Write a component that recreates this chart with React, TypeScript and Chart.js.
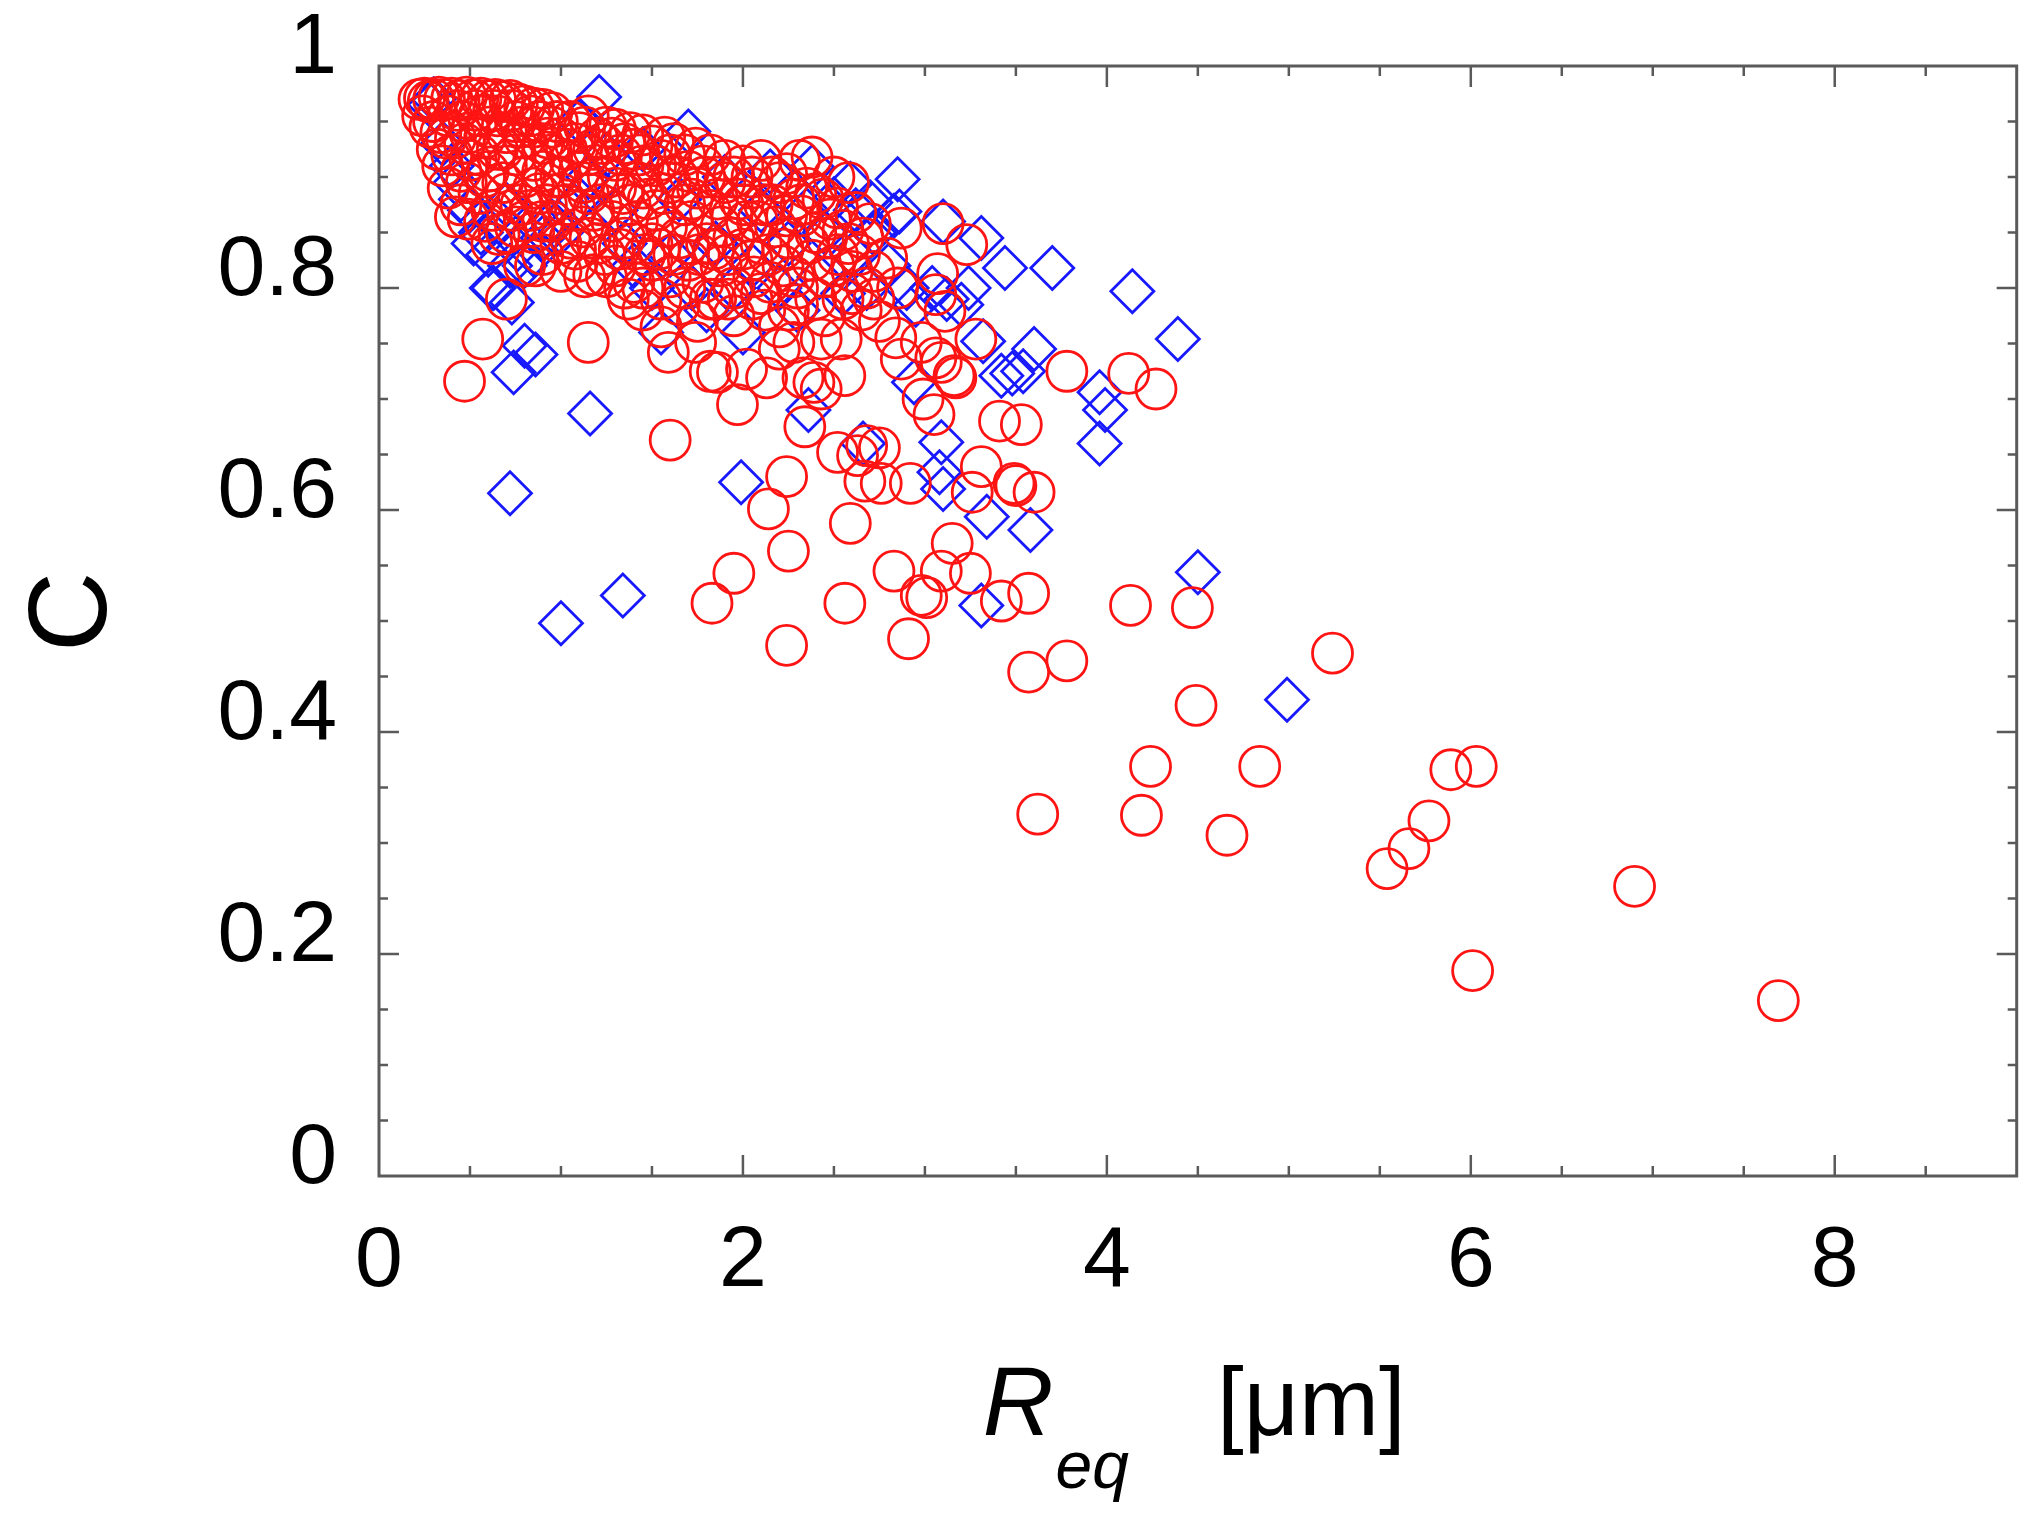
import React, { useEffect, useRef } from "react";
import { Chart, registerables } from "chart.js";

Chart.register(...registerables);

const FONT = '"Liberation Sans", Arial, Helvetica, sans-serif';

// [Req (um), C], red circles
const circlesCap: [number, number][] = [
  [0.22, 0.97], [0.25, 0.971], [0.27, 0.968], [0.3, 0.97], [0.33, 0.972], [0.36, 0.97],
  [0.4, 0.971], [0.44, 0.969], [0.48, 0.972], [0.52, 0.97], [0.56, 0.971], [0.6, 0.969],
  [0.64, 0.97], [0.68, 0.968], [0.72, 0.969], [0.76, 0.966], [0.8, 0.964], [0.85, 0.962],
  [0.9, 0.961], [0.95, 0.958],
];

const circlesUpper: [number, number][] = [
  [0.3, 0.95], [0.34, 0.94], [0.38, 0.955], [0.42, 0.935], [0.46, 0.95], [0.5, 0.94],
  [0.55, 0.955], [0.6, 0.945], [0.65, 0.955], [0.7, 0.94], [0.75, 0.95], [0.8, 0.935],
  [0.85, 0.945], [0.9, 0.93], [0.95, 0.945], [1.0, 0.935], [1.05, 0.95], [1.1, 0.94],
  [1.15, 0.955], [1.2, 0.935], [1.25, 0.945], [1.3, 0.943], [1.35, 0.93], [1.45, 0.938],
  [1.57, 0.936], [0.35, 0.91], [0.4, 0.92], [0.45, 0.905], [0.5, 0.915], [0.55, 0.92],
  [0.6, 0.905], [0.65, 0.925], [0.7, 0.91], [0.75, 0.92], [0.8, 0.9], [0.85, 0.915],
  [0.9, 0.905], [0.95, 0.92], [1.0, 0.9], [1.05, 0.915], [1.1, 0.905], [1.15, 0.92],
  [1.2, 0.9], [1.3, 0.915], [1.4, 0.925], [1.45, 0.91], [1.5, 0.928], [1.55, 0.915],
  [1.62, 0.93], [1.68, 0.92], [1.74, 0.926], [1.82, 0.92], [1.9, 0.915], [2.0, 0.91],
  [2.1, 0.915], [2.24, 0.903], [2.31, 0.915], [2.38, 0.918], [2.5, 0.9], [2.58, 0.895],
];

const circlesMiddle: [number, number][] = [
  [0.42, 0.864], [0.45, 0.875], [0.55, 0.885], [0.62, 0.87], [0.7, 0.885], [0.78, 0.875],
  [0.85, 0.89], [0.92, 0.875], [1.0, 0.885], [1.08, 0.87], [1.15, 0.885], [1.22, 0.875],
  [1.3, 0.89], [1.38, 0.875], [1.45, 0.89], [1.52, 0.87], [1.6, 0.895], [1.68, 0.875],
  [1.75, 0.89], [1.82, 0.87], [1.9, 0.895], [1.98, 0.88], [2.05, 0.89], [2.12, 0.875],
  [2.2, 0.895], [2.28, 0.88], [2.35, 0.89], [2.44, 0.88], [2.52, 0.872], [0.49, 0.862],
  [0.62, 0.84], [0.66, 0.848], [0.75, 0.855], [0.85, 0.85], [0.95, 0.86], [1.05, 0.845],
  [1.12, 0.855], [1.2, 0.84], [1.28, 0.86], [1.35, 0.845], [1.42, 0.86], [1.5, 0.84],
  [1.58, 0.855], [1.65, 0.845], [1.72, 0.86], [1.8, 0.84], [1.88, 0.855], [1.95, 0.845],
  [2.02, 0.86], [2.1, 0.84], [2.18, 0.855], [2.25, 0.845], [2.32, 0.865], [2.4, 0.85],
  [2.48, 0.862], [2.55, 0.852], [2.62, 0.868], [2.7, 0.858], [2.87, 0.854], [3.1, 0.858],
  [3.23, 0.839],
];

const circlesLower: [number, number][] = [
  [0.7, 0.79], [0.8, 0.82], [0.86, 0.82], [0.9, 0.83], [1.0, 0.815], [1.09, 0.824],
  [1.13, 0.81], [1.18, 0.812], [1.3, 0.82], [1.35, 0.8], [1.4, 0.805], [1.5, 0.825],
  [1.6, 0.81], [1.7, 0.825], [1.78, 0.805], [1.88, 0.82], [1.95, 0.8], [2.05, 0.825],
  [2.15, 0.805], [2.22, 0.82], [2.3, 0.8], [2.38, 0.825], [2.45, 0.81], [2.52, 0.83],
  [2.6, 0.815], [2.68, 0.8], [2.79, 0.827], [3.07, 0.813], [1.37, 0.79], [1.45, 0.78],
  [1.55, 0.765], [1.65, 0.785], [1.75, 0.77], [1.85, 0.79], [1.95, 0.775], [2.05, 0.79],
  [2.12, 0.78], [2.2, 0.765], [2.3, 0.785], [2.45, 0.775], [2.55, 0.79], [2.65, 0.78],
  [2.75, 0.77], [3.06, 0.794], [3.11, 0.779],
];

// extra circles in the packed part of the cloud
const circlesFill: [number, number][] = [
  [0.24, 0.955], [0.28, 0.945], [0.32, 0.925], [0.37, 0.935], [0.43, 0.96], [0.47, 0.93],
  [0.53, 0.96], [0.58, 0.935], [0.63, 0.96], [0.68, 0.925], [0.73, 0.96], [0.78, 0.945],
  [0.83, 0.955], [0.88, 0.95], [0.93, 0.935], [0.98, 0.95], [1.03, 0.925], [1.08, 0.93],
  [1.13, 0.945], [1.18, 0.925], [1.23, 0.93], [1.28, 0.935], [1.33, 0.92], [1.38, 0.94],
  [1.43, 0.92], [1.52, 0.91], [1.6, 0.92], [1.7, 0.905], [1.78, 0.91], [1.86, 0.9],
  [1.95, 0.9], [2.05, 0.9], [2.16, 0.9], [0.38, 0.89], [0.48, 0.895], [0.58, 0.9],
  [0.68, 0.895], [0.73, 0.87], [0.83, 0.87], [0.88, 0.885], [0.97, 0.9], [1.03, 0.875],
  [1.12, 0.895], [1.18, 0.87], [1.26, 0.9], [1.34, 0.885], [1.42, 0.895], [1.48, 0.88],
  [1.56, 0.885], [1.64, 0.9], [1.72, 0.88], [1.79, 0.9], [1.86, 0.88], [1.94, 0.865],
  [2.0, 0.875], [2.08, 0.86], [2.16, 0.875], [2.24, 0.865], [2.32, 0.875], [2.4, 0.885],
  [2.46, 0.845], [2.58, 0.84], [2.66, 0.845], [0.58, 0.86], [0.7, 0.85], [0.8, 0.86],
  [0.9, 0.86], [1.0, 0.84], [1.08, 0.835], [1.16, 0.845], [1.24, 0.83], [1.32, 0.835],
  [1.4, 0.84], [1.46, 0.83], [1.54, 0.835], [1.62, 0.83], [1.7, 0.84], [1.76, 0.83],
  [1.84, 0.835], [1.92, 0.83], [2.0, 0.835], [2.06, 0.81], [2.14, 0.83], [2.22, 0.835],
  [2.28, 0.81], [2.36, 0.84], [2.5, 0.82], [2.64, 0.83], [2.72, 0.815], [1.25, 0.81],
  [1.45, 0.8], [1.55, 0.79], [1.68, 0.8], [1.82, 0.79], [1.92, 0.79], [2.1, 0.795],
  [2.25, 0.78], [2.4, 0.79], [2.6, 0.795], [2.72, 0.79], [2.85, 0.8],
];

const circlesSparse: [number, number][] = [
  [0.47, 0.716], [0.57, 0.754], [1.15, 0.751], [1.59, 0.742], [1.6, 0.663], [1.74, 0.751],
  [1.82, 0.725], [1.86, 0.724], [1.97, 0.695], [2.02, 0.727], [2.13, 0.719], [2.2, 0.745],
  [2.28, 0.751], [2.33, 0.719], [2.39, 0.715], [2.43, 0.709], [2.43, 0.754], [2.54, 0.754],
  [2.56, 0.721], [2.84, 0.755], [2.87, 0.736], [2.98, 0.751], [3.09, 0.733], [3.16, 0.721],
  [3.28, 0.754], [2.99, 0.7], [3.05, 0.686], [3.06, 0.737], [3.17, 0.719], [2.34, 0.675],
  [2.52, 0.652], [2.63, 0.649], [2.68, 0.658], [2.75, 0.656], [3.41, 0.68], [3.53, 0.677],
  [3.78, 0.725], [4.12, 0.723], [4.27, 0.709], [2.24, 0.63], [2.14, 0.601], [2.25, 0.563],
  [2.59, 0.588], [2.67, 0.626], [2.76, 0.624], [2.92, 0.624], [3.31, 0.639], [3.26, 0.616],
  [3.49, 0.624], [3.5, 0.622], [3.6, 0.616], [3.15, 0.57], [1.83, 0.516], [1.95, 0.543],
  [2.24, 0.478], [2.56, 0.516], [2.83, 0.545], [2.91, 0.484], [2.98, 0.523], [3.01, 0.521],
  [3.09, 0.545], [3.25, 0.543], [3.42, 0.518], [3.57, 0.525], [4.13, 0.514], [4.47, 0.512],
  [3.57, 0.454], [3.78, 0.464], [3.62, 0.326], [4.49, 0.424], [4.24, 0.369], [4.19, 0.325],
  [4.66, 0.307], [4.84, 0.369], [5.24, 0.471], [5.54, 0.277], [5.66, 0.295], [5.77, 0.32],
  [5.89, 0.366], [6.03, 0.369], [6.01, 0.185], [6.9, 0.261], [7.69, 0.158],
];

// blue diamonds
const diamondsBand: [number, number][] = [
  [0.28, 0.965], [0.3, 0.97], [0.35, 0.93], [0.4, 0.91], [0.42, 0.895], [0.45, 0.88],
  [0.5, 0.87], [0.52, 0.84], [0.56, 0.85], [0.6, 0.83], [0.62, 0.8], [0.66, 0.86],
  [0.7, 0.875], [0.72, 0.82], [0.76, 0.835], [0.8, 0.82], [0.85, 0.83], [0.9, 0.845],
  [0.95, 0.86], [1.0, 0.85], [1.05, 0.87], [1.1, 0.88], [1.1, 0.95], [1.15, 0.9],
  [1.21, 0.972], [1.25, 0.92], [1.3, 0.87], [1.35, 0.84], [1.4, 0.82], [1.45, 0.925],
  [1.5, 0.8], [1.55, 0.76], [1.6, 0.83], [1.65, 0.88], [1.7, 0.941], [1.72, 0.8],
  [1.8, 0.78], [1.85, 0.84], [1.9, 0.9], [1.95, 0.8], [2.0, 0.76], [2.05, 0.82],
  [2.1, 0.87], [2.15, 0.905], [2.2, 0.8], [2.25, 0.84], [2.3, 0.78], [2.35, 0.87],
  [2.38, 0.909], [2.42, 0.81], [2.45, 0.85], [2.5, 0.88], [2.55, 0.795], [2.59, 0.894],
  [2.6, 0.83], [2.62, 0.87], [2.68, 0.8], [2.7, 0.877], [2.72, 0.85], [2.8, 0.82],
  [2.83, 0.865], [2.85, 0.898], [2.86, 0.869], [2.9, 0.8], [2.95, 0.785], [3.04, 0.8],
  [3.1, 0.86], [3.12, 0.79], [3.2, 0.785], [3.24, 0.8], [3.31, 0.845], [3.44, 0.818],
  [3.7, 0.818],
];

const diamondsSparse: [number, number][] = [
  [0.63, 0.8], [0.73, 0.787], [0.74, 0.724], [0.8, 0.748], [0.86, 0.74], [0.72, 0.615],
  [1.0, 0.498], [1.34, 0.523], [1.16, 0.687], [1.99, 0.625], [2.36, 0.69], [2.66, 0.66],
  [2.94, 0.715], [3.08, 0.634], [3.09, 0.661], [3.1, 0.619], [3.32, 0.752], [3.34, 0.594],
  [3.31, 0.514], [3.42, 0.721], [3.48, 0.723], [3.54, 0.725], [3.6, 0.745], [3.58, 0.582],
  [3.96, 0.706], [3.99, 0.69], [3.96, 0.66], [4.14, 0.797], [4.39, 0.754], [4.5, 0.544],
  [4.99, 0.429],
];

const xRange = [0, 9];
const yRange = [0, 1];
const xTickLabels = ["0", "2", "4", "6", "8"];
const yTickLabels = ["0", "0.2", "0.4", "0.6", "0.8", "1"];
const xMajorStep = 2;
const xMinorStep = 0.5;
const yMajorStep = 0.2;
const yMinorStep = 0.05;
const yTitle = "C";

const toPoints = (...groups: [number, number][][]) =>
  groups.flat().map(([x, y]) => ({ x, y }));

const isMajor = (v: number, step: number) =>
  Math.abs(v / step - Math.round(v / step)) < 1e-6;

const framePlugin = {
  id: "frameTicks",
  afterDatasetsDraw(chart: any) {
    const { ctx, chartArea: a, scales } = chart;
    const xs = scales.x;
    const ys = scales.y;
    ctx.save();
    ctx.strokeStyle = "#5a5a5a";
    ctx.lineWidth = 3;
    ctx.strokeRect(a.left, a.top, a.right - a.left, a.bottom - a.top);
    ctx.lineWidth = 2.5;
    ctx.beginPath();
    const nx = Math.round((xRange[1] - xRange[0]) / xMinorStep);
    for (let i = 1; i < nx; i++) {
      const v = xRange[0] + i * xMinorStep;
      const px = xs.getPixelForValue(v);
      const len = isMajor(v, xMajorStep) ? 21 : 10;
      ctx.moveTo(px, a.bottom);
      ctx.lineTo(px, a.bottom - len);
      ctx.moveTo(px, a.top);
      ctx.lineTo(px, a.top + len);
    }
    const ny = Math.round((yRange[1] - yRange[0]) / yMinorStep);
    for (let i = 1; i < ny; i++) {
      const v = yRange[0] + i * yMinorStep;
      const py = ys.getPixelForValue(v);
      const len = isMajor(v, yMajorStep) ? 20 : 9;
      ctx.moveTo(a.left, py);
      ctx.lineTo(a.left + len, py);
      ctx.moveTo(a.right, py);
      ctx.lineTo(a.right - len, py);
    }
    ctx.stroke();
    ctx.restore();
  },
  afterDraw(chart: any) {
    const { ctx, chartArea: a } = chart;
    const cx = (a.left + a.right) / 2;
    ctx.save();
    ctx.fillStyle = "#000";
    // y title
    ctx.save();
    ctx.translate(a.left - 304, (a.top + a.bottom) / 2 - 9);
    ctx.rotate(-Math.PI / 2);
    ctx.font = `111px ${FONT}`;
    ctx.textAlign = "center";
    ctx.textBaseline = "middle";
    ctx.fillText(yTitle, 0, 0);
    ctx.restore();
    // x title: R_eq [μm]
    ctx.textAlign = "left";
    ctx.textBaseline = "alphabetic";
    let x = cx - 215;
    ctx.font = `italic 98px ${FONT}`;
    ctx.fillText("R", x, a.bottom + 259);
    x += ctx.measureText("R").width + 2;
    ctx.font = `italic 66px ${FONT}`;
    ctx.fillText("eq", x, a.bottom + 312);
    x += ctx.measureText("eq").width + 88;
    ctx.font = `96px ${FONT}`;
    ctx.fillText("[\u03bcm]", x, a.bottom + 259);
    ctx.restore();
  },
};

export default function App() {
  const canvasRef = useRef<HTMLCanvasElement>(null);

  useEffect(() => {
    document.body.style.margin = "0";
    document.body.style.overflow = "hidden";
    if (!canvasRef.current) return;
    const chart = new Chart(canvasRef.current, {
      type: "scatter",
      data: {
        datasets: [
          {
            label: "circles",
            data: toPoints(
              circlesCap,
              circlesUpper,
              circlesFill,
              circlesMiddle,
              circlesLower,
              circlesSparse
            ),
            pointStyle: "circle",
            pointRadius: 20,
            pointBorderWidth: 2.8,
            borderColor: "rgb(255, 20, 20)",
            backgroundColor: "rgba(0,0,0,0)",
          },
          {
            label: "diamonds",
            data: toPoints(diamondsBand, diamondsSparse),
            pointStyle: "rectRot",
            pointRadius: 21.5,
            pointBorderWidth: 2.8,
            borderColor: "rgb(25, 25, 255)",
            backgroundColor: "rgba(0,0,0,0)",
          },
        ],
      },
      options: {
        animation: false,
        responsive: false,
        devicePixelRatio: 1,
        events: [],
        layout: { padding: { top: 66, right: 12, left: 0, bottom: 0 } },
        plugins: { legend: { display: false }, tooltip: { enabled: false } },
        scales: {
          x: {
            type: "linear",
            min: xRange[0],
            max: xRange[1],
            grid: { display: false },
            border: { display: false },
            ticks: {
              stepSize: xMajorStep,
              includeBounds: false,
              padding: 27,
              color: "#000",
              font: { family: FONT, size: 86 },
              callback: (_v: any, i: number) => xTickLabels[i],
            },
            afterFit: (s: any) => {
              s.height = 353;
              s.paddingLeft = 0;
              s.paddingRight = 0;
            },
          },
          y: {
            type: "linear",
            min: yRange[0],
            max: yRange[1],
            grid: { display: false },
            border: { display: false },
            ticks: {
              stepSize: yMajorStep,
              padding: 34,
              labelOffset: -17,
              color: "#000",
              font: { family: FONT, size: 86 },
              callback: (_v: any, i: number) => yTickLabels[i],
            },
            afterFit: (s: any) => {
              s.width = 379;
              s.paddingTop = 0;
              s.paddingBottom = 0;
            },
          },
        },
      },
      plugins: [framePlugin],
    });
    return () => chart.destroy();
  }, []);

  return (
    <div style={{ width: 2041, height: 1529, background: "#fff" }}>
      <canvas ref={canvasRef} width={2041} height={1529} />
    </div>
  );
}
